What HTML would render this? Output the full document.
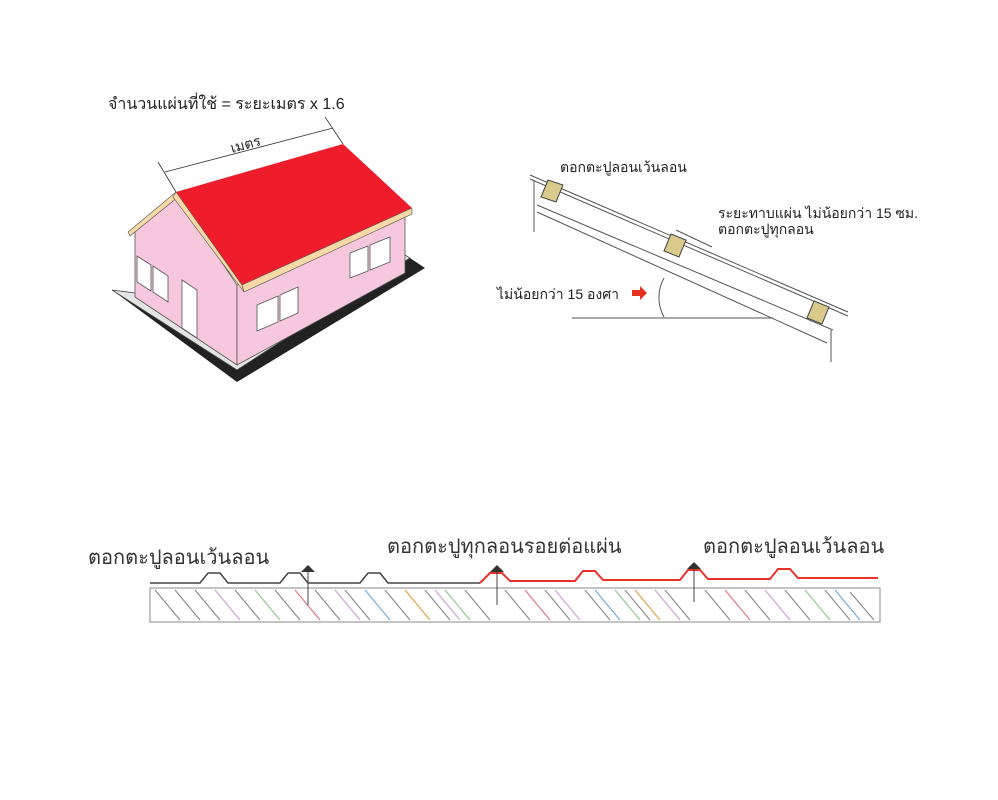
<!DOCTYPE html>
<html><head><meta charset="utf-8"><style>body{margin:0;background:#fff}svg{display:block}text{font-family:"Liberation Sans","DejaVu Sans",sans-serif}</style></head><body>
<svg width="998" height="800" viewBox="0 0 998 800">
<!-- house -->
<text x="108" y="109" font-size="16" fill="#222">จำนวนแผ่นที่ใช้ = ระยะเมตร x 1.6</text>
<polygon points="112,290 237,382 425,268 410,258 237,366 135,295" fill="#222"/>
<polygon points="112,290 237,370 410,258 405,255 237,360 135,293" fill="#e4e4e4" stroke="#444" stroke-width="0.8"/>
<polygon points="135,232 176,194 237,285 237,365 135,297" fill="#f7c8dd" stroke="#555" stroke-width="0.8"/>
<polygon points="237,285 405,214 405,273 237,365" fill="#f7c8dd" stroke="#555" stroke-width="0.8"/>
<polygon points="128,232 176,192 178,197 130,236" fill="#f6d9a6" stroke="#555" stroke-width="0.6"/>
<polygon points="176,192 343,144 412,208 242,285" fill="#ef1c2c"/>
<polygon points="176,192 242,285 244,292 173,197" fill="#f6d9a6" stroke="#555" stroke-width="0.6"/>
<polygon points="242,285 412,208 412,214 244,292" fill="#f6d9a6" stroke="#555" stroke-width="0.6"/>
<line x1="176" y1="192" x2="158" y2="162" stroke="#333" stroke-width="0.8"/>
<line x1="343" y1="144" x2="325" y2="117" stroke="#333" stroke-width="0.8"/>
<line x1="165" y1="172" x2="333" y2="128" stroke="#333" stroke-width="0.8"/>
<text x="232" y="153" font-size="14" fill="#222" transform="rotate(-15 232 153)">เมตร</text>
<g fill="#fff" stroke="#555" stroke-width="0.8">
<polygon points="137,256 151,265 151,291 137,282"/><polygon points="153,266 168,276 168,302 153,292"/>
<polygon points="182,280 197,290 197,338 182,328"/>
<polygon points="257,305 278,296 278,322 257,331"/><polygon points="280,295 298,287 298,313 280,321"/>
<polygon points="350,253 368,246 368,271 350,278"/><polygon points="370,245 390,237 390,262 370,270"/>
</g>
<!-- roof section -->
<g stroke="#555" fill="none" stroke-width="1">
<line x1="530" y1="175" x2="848" y2="312"/><line x1="530" y1="179" x2="848" y2="316"/>
<line x1="537" y1="205" x2="833" y2="330"/><line x1="537" y1="212" x2="827" y2="343"/>
<line x1="534" y1="180" x2="534" y2="232"/><line x1="831" y1="330" x2="831" y2="362"/>
<line x1="572" y1="318" x2="773" y2="318"/>
<path d="M664,278 A40,40 0 0 0 664,317"/>
<line x1="676" y1="230" x2="712" y2="247"/>
</g>
<g fill="#d9c98a" stroke="#444">
<polygon points="548,180 563,185 556,202 541,197"/>
<polygon points="671,234 686,240 679,257 664,251"/>
<polygon points="814,301 829,307 822,324 807,318"/>
</g>
<text x="560" y="172" font-size="14" fill="#222">ตอกตะปูลอนเว้นลอน</text>
<text x="718" y="218" font-size="14" fill="#222">ระยะทาบแผ่น ไม่น้อยกว่า 15 ซม.</text>
<text x="718" y="234" font-size="14" fill="#222">ตอกตะปูทุกลอน</text>
<text x="497" y="299" font-size="14" fill="#222">ไม่น้อยกว่า 15 องศา</text>
<polygon points="632,290 640,290 640,286 647,293 640,300 640,296 632,296" fill="#e53020"/>
<!-- bottom -->
<text x="88" y="564" font-size="20" fill="#333">ตอกตะปูลอนเว้นลอน</text>
<text x="387" y="553" font-size="20" fill="#333">ตอกตะปูทุกลอนรอยต่อแผ่น</text>
<text x="703" y="553" font-size="20" fill="#333">ตอกตะปูลอนเว้นลอน</text>
<path d="M150,583 L200,583 L208,573 L220,573 L228,583 L280,583 L288,573 L300,573 L308,583 L360,583 L368,573 L380,573 L388,583 L480,583" stroke="#444" stroke-width="1.5" fill="none"/>
<path d="M480,583 L490,573 L502,573 L510,581 L575,581 L583,571 L595,571 L603,580 L680,580 L688,570 L700,570 L708,579 L770,579 L778,569 L790,569 L798,578 L878,578" stroke="#e8322a" stroke-width="2" fill="none"/>
<rect x="150" y="588" width="730" height="34" fill="#fff" stroke="#888"/>
<g stroke-width="1.1">
<path d="M155,590 L180,620 M175,590 L200,620 M195,590 L220,620 M235,590 L260,620 M275,590 L300,620 M315,590 L340,620 M345,590 L370,620 M385,590 L410,620 M425,590 L450,620 M465,590 L490,620 M505,590 L530,620 M545,590 L570,620 M585,590 L610,620 M625,590 L650,620 M665,590 L690,620 M705,590 L730,620 M745,590 L770,620 M785,590 L810,620 M825,590 L850,620 M850,592 L874,620" stroke="#888"/>
<path d="M215,590 L240,620 M335,590 L360,620 M435,590 L460,620 M555,590 L580,620 M655,590 L680,620 M765,590 L790,620" stroke="#c9a0d0"/>
<path d="M255,590 L280,620 M445,590 L470,620 M615,590 L640,620 M805,590 L830,620" stroke="#8fc48f"/>
<path d="M365,590 L390,620 M595,590 L620,620 M835,590 L860,620" stroke="#6aa8d8"/>
<path d="M405,590 L430,620 M635,590 L660,620" stroke="#e0a040"/>
<path d="M295,590 L320,620 M525,590 L550,620 M725,590 L750,620" stroke="#e07080"/>
</g>
<g stroke="#444" stroke-width="1"><line x1="308" y1="570" x2="308" y2="605"/><line x1="497" y1="570" x2="497" y2="605"/><line x1="694" y1="567" x2="694" y2="602"/></g>
<g fill="#333"><polygon points="301,572 308,565 315,572"/><polygon points="490,572 497,565 504,572"/><polygon points="687,569 694,562 701,569"/></g>
</svg>
</body></html>
